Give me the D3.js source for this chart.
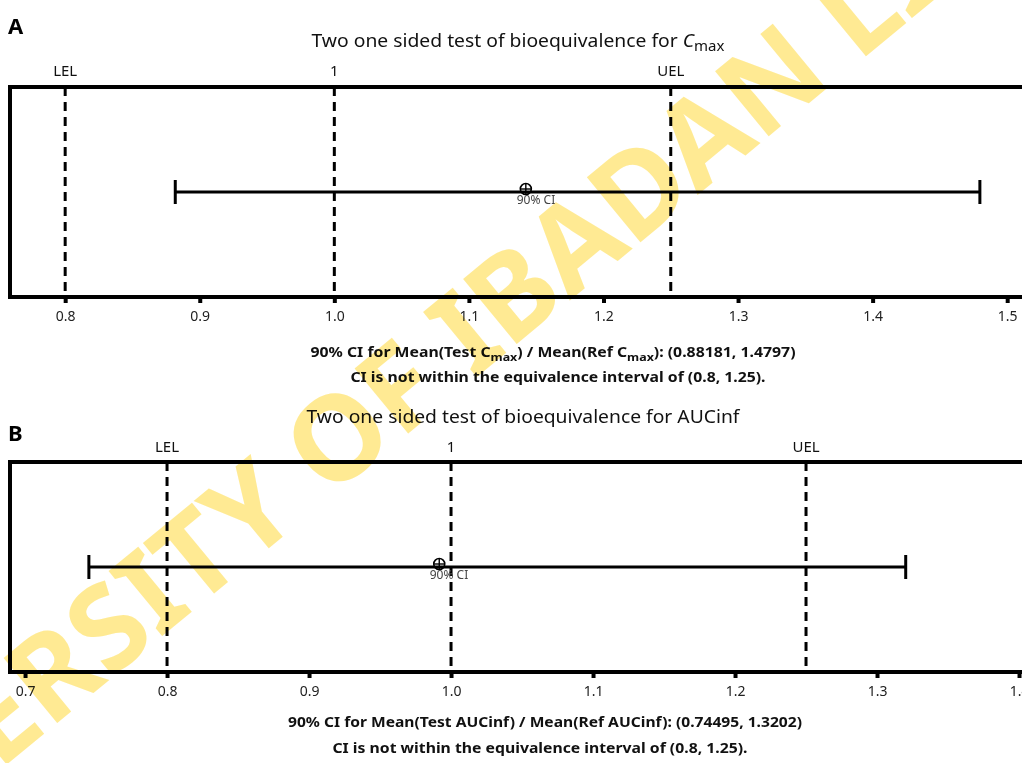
<!DOCTYPE html>
<html>
<head>
<meta charset="utf-8">
<script src="https://cdn.jsdelivr.net/npm/d3@7"></script>
<style>
  html, body { margin: 0; padding: 0; background: #fff; }
  svg { display: block; }
  text { font-family: "Noto Sans", "Open Sans", sans-serif; }
</style>
</head>
<body>
<svg id="chart" width="1022" height="763"></svg>
<script>
// ---------- data ----------
const panelLetters = ["A", "B"];
const paramNames = ["Cmax", "AUCinf"];
const ciLower = [0.88181, 0.74495];
const ciUpper = [1.4797, 1.3202];
const pointEstimates = [1.1423, 0.9917];
const limitValues = [0.8, 1, 1.25];
const limitLabels = ["LEL", "1", "UEL"];
const ticksA = [0.8, 0.9, 1.0, 1.1, 1.2, 1.3, 1.4, 1.5];
const ticksB = [0.7, 0.8, 0.9, 1.0, 1.1, 1.2, 1.3, 1.4];
const domainA = [0.759, 1.511];
const domainB = [0.6894, 1.4021];
const equivInterval = "(0.8, 1.25)";
const watermark = "UNIVERSITY OF IBADAN LIBRARY";

// ---------- layout ----------
const svg = d3.select("#chart");
const W = 1022;

const layouts = [
  { top: 87, bottom: 297, titleY: 47, limY: 76, tickLabY: 322, cap1Y: 357, cap2Y: 382,
    letterY: 34, cap1X: 553, cap1W: 485, cap2X: 558, cap2W: 415, titleX: 518, titleW: 413,
    ciLabX: 536, ticks: ticksA, domain: domainA },
  { top: 462, bottom: 672, titleY: 423, limY: 452, tickLabY: 697, cap1Y: 727, cap2Y: 753,
    letterY: 441, cap1X: 545, cap1W: 514, cap2X: 540, cap2W: 415, titleX: 523, titleW: 433,
    ciLabX: 449, ticks: ticksB, domain: domainB }
];

layouts.forEach((L, i) => {
  const g = svg.append("g");
  const x = d3.scaleLinear().domain(L.domain).range([10, W]);
  const midY = (L.top + L.bottom) / 2;

  // panel letter
  g.append("text").attr("x", 8).attr("y", L.letterY)
    .attr("font-family", "Liberation Sans, Arial, sans-serif")
    .attr("font-weight", "bold").attr("font-size", 22).text(panelLetters[i]);

  // title
  const t = g.append("text").attr("x", L.titleX).attr("y", L.titleY)
    .attr("text-anchor", "middle").attr("font-size", 18).attr("fill", "#111")
    .attr("textLength", L.titleW).attr("lengthAdjust", "spacingAndGlyphs");
  if (paramNames[i] === "Cmax") {
    t.append("tspan").text("Two one sided test of bioequivalence for ");
    t.append("tspan").text("C").attr("font-style", "italic");
    t.append("tspan").text("max").attr("font-size", 14).attr("dy", 4);
  } else {
    t.text("Two one sided test of bioequivalence for " + paramNames[i]);
  }

  // limit labels
  g.selectAll(".lim").data(limitValues).join("text")
    .attr("x", d => x(d)).attr("y", L.limY).attr("text-anchor", "middle")
    .attr("font-size", 15).attr("fill", "#111")
    .text((d, j) => limitLabels[j]);

  // dashed limit lines
  g.selectAll(".dl").data(limitValues).join("line")
    .attr("x1", d => x(d)).attr("x2", d => x(d))
    .attr("y1", L.top).attr("y2", L.bottom)
    .attr("stroke", "#000").attr("stroke-width", 3).attr("stroke-dasharray", "9,6");

  // box
  g.append("rect").attr("x", 10).attr("y", L.top).attr("width", W + 20).attr("height", L.bottom - L.top)
    .attr("fill", "none").attr("stroke", "#000").attr("stroke-width", 4);

  // axis
  const axis = d3.axisBottom(x).tickValues(L.ticks).tickFormat(d3.format(".1f")).tickSize(6).tickPadding(8);
  const ag = g.append("g").attr("transform", `translate(0,${L.bottom})`).call(axis);
  ag.select(".domain").remove();
  ag.selectAll(".tick line").attr("stroke", "#000").attr("stroke-width", 4);
  ag.selectAll(".tick text").attr("font-family", "Noto Sans, sans-serif").attr("font-size", 14).attr("fill", "#222");

  // CI line
  g.append("line").attr("x1", x(ciLower[i])).attr("x2", x(ciUpper[i]))
    .attr("y1", midY).attr("y2", midY).attr("stroke", "#000").attr("stroke-width", 3);
  [ciLower[i], ciUpper[i]].forEach(v => {
    g.append("line").attr("x1", x(v)).attr("x2", x(v)).attr("y1", midY - 12).attr("y2", midY + 12)
      .attr("stroke", "#000").attr("stroke-width", 3);
  });

  // point estimate (circle plus)
  const px = x(pointEstimates[i]), py = midY - 3;
  g.append("circle").attr("cx", px).attr("cy", py).attr("r", 5.5)
    .attr("fill", "none").attr("stroke", "#000").attr("stroke-width", 1.6);
  g.append("line").attr("x1", px - 5.5).attr("x2", px + 5.5).attr("y1", py).attr("y2", py).attr("stroke", "#000").attr("stroke-width", 1.4);
  g.append("line").attr("x1", px).attr("x2", px).attr("y1", py - 5.5).attr("y2", py + 5.5).attr("stroke", "#000").attr("stroke-width", 1.4);
  g.append("text").attr("x", L.ciLabX).attr("y", midY + 12).attr("text-anchor", "middle")
    .attr("font-size", 12).attr("fill", "#444").text("90% CI");

  // captions
  const c1 = g.append("text").attr("x", L.cap1X).attr("y", L.cap1Y).attr("text-anchor", "middle")
    .attr("font-size", 14).attr("font-weight", "bold").attr("fill", "#111")
    .attr("textLength", L.cap1W).attr("lengthAdjust", "spacingAndGlyphs");
  if (paramNames[i] === "Cmax") {
    c1.append("tspan").text("90% CI for Mean(Test C");
    c1.append("tspan").text("max").attr("font-size", 11).attr("dy", 4);
    c1.append("tspan").text(") / Mean(Ref C").attr("dy", -4);
    c1.append("tspan").text("max").attr("font-size", 11).attr("dy", 4);
    c1.append("tspan").text(`): (${ciLower[i]}, ${ciUpper[i]})`).attr("dy", -4);
  } else {
    c1.text(`90% CI for Mean(Test ${paramNames[i]}) / Mean(Ref ${paramNames[i]}): (${ciLower[i]}, ${ciUpper[i]})`);
  }
  g.append("text").attr("x", L.cap2X).attr("y", L.cap2Y).attr("text-anchor", "middle")
    .attr("font-size", 14).attr("font-weight", "bold").attr("fill", "#111")
    .attr("textLength", L.cap2W).attr("lengthAdjust", "spacingAndGlyphs")
    .text(`CI is not within the equivalence interval of ${equivInterval}.`);
});

// watermark
svg.append("text")
  .attr("transform", "translate(-239,967) rotate(-39.5)")
  .attr("font-family", "Liberation Sans, Arial, sans-serif")
  .attr("font-weight", "bold").attr("font-size", 118)
  .attr("fill", "#FFE680").attr("fill-opacity", 0.85)
  .style("mix-blend-mode", "multiply")
  .text(watermark);
</script>
</body>
</html>
